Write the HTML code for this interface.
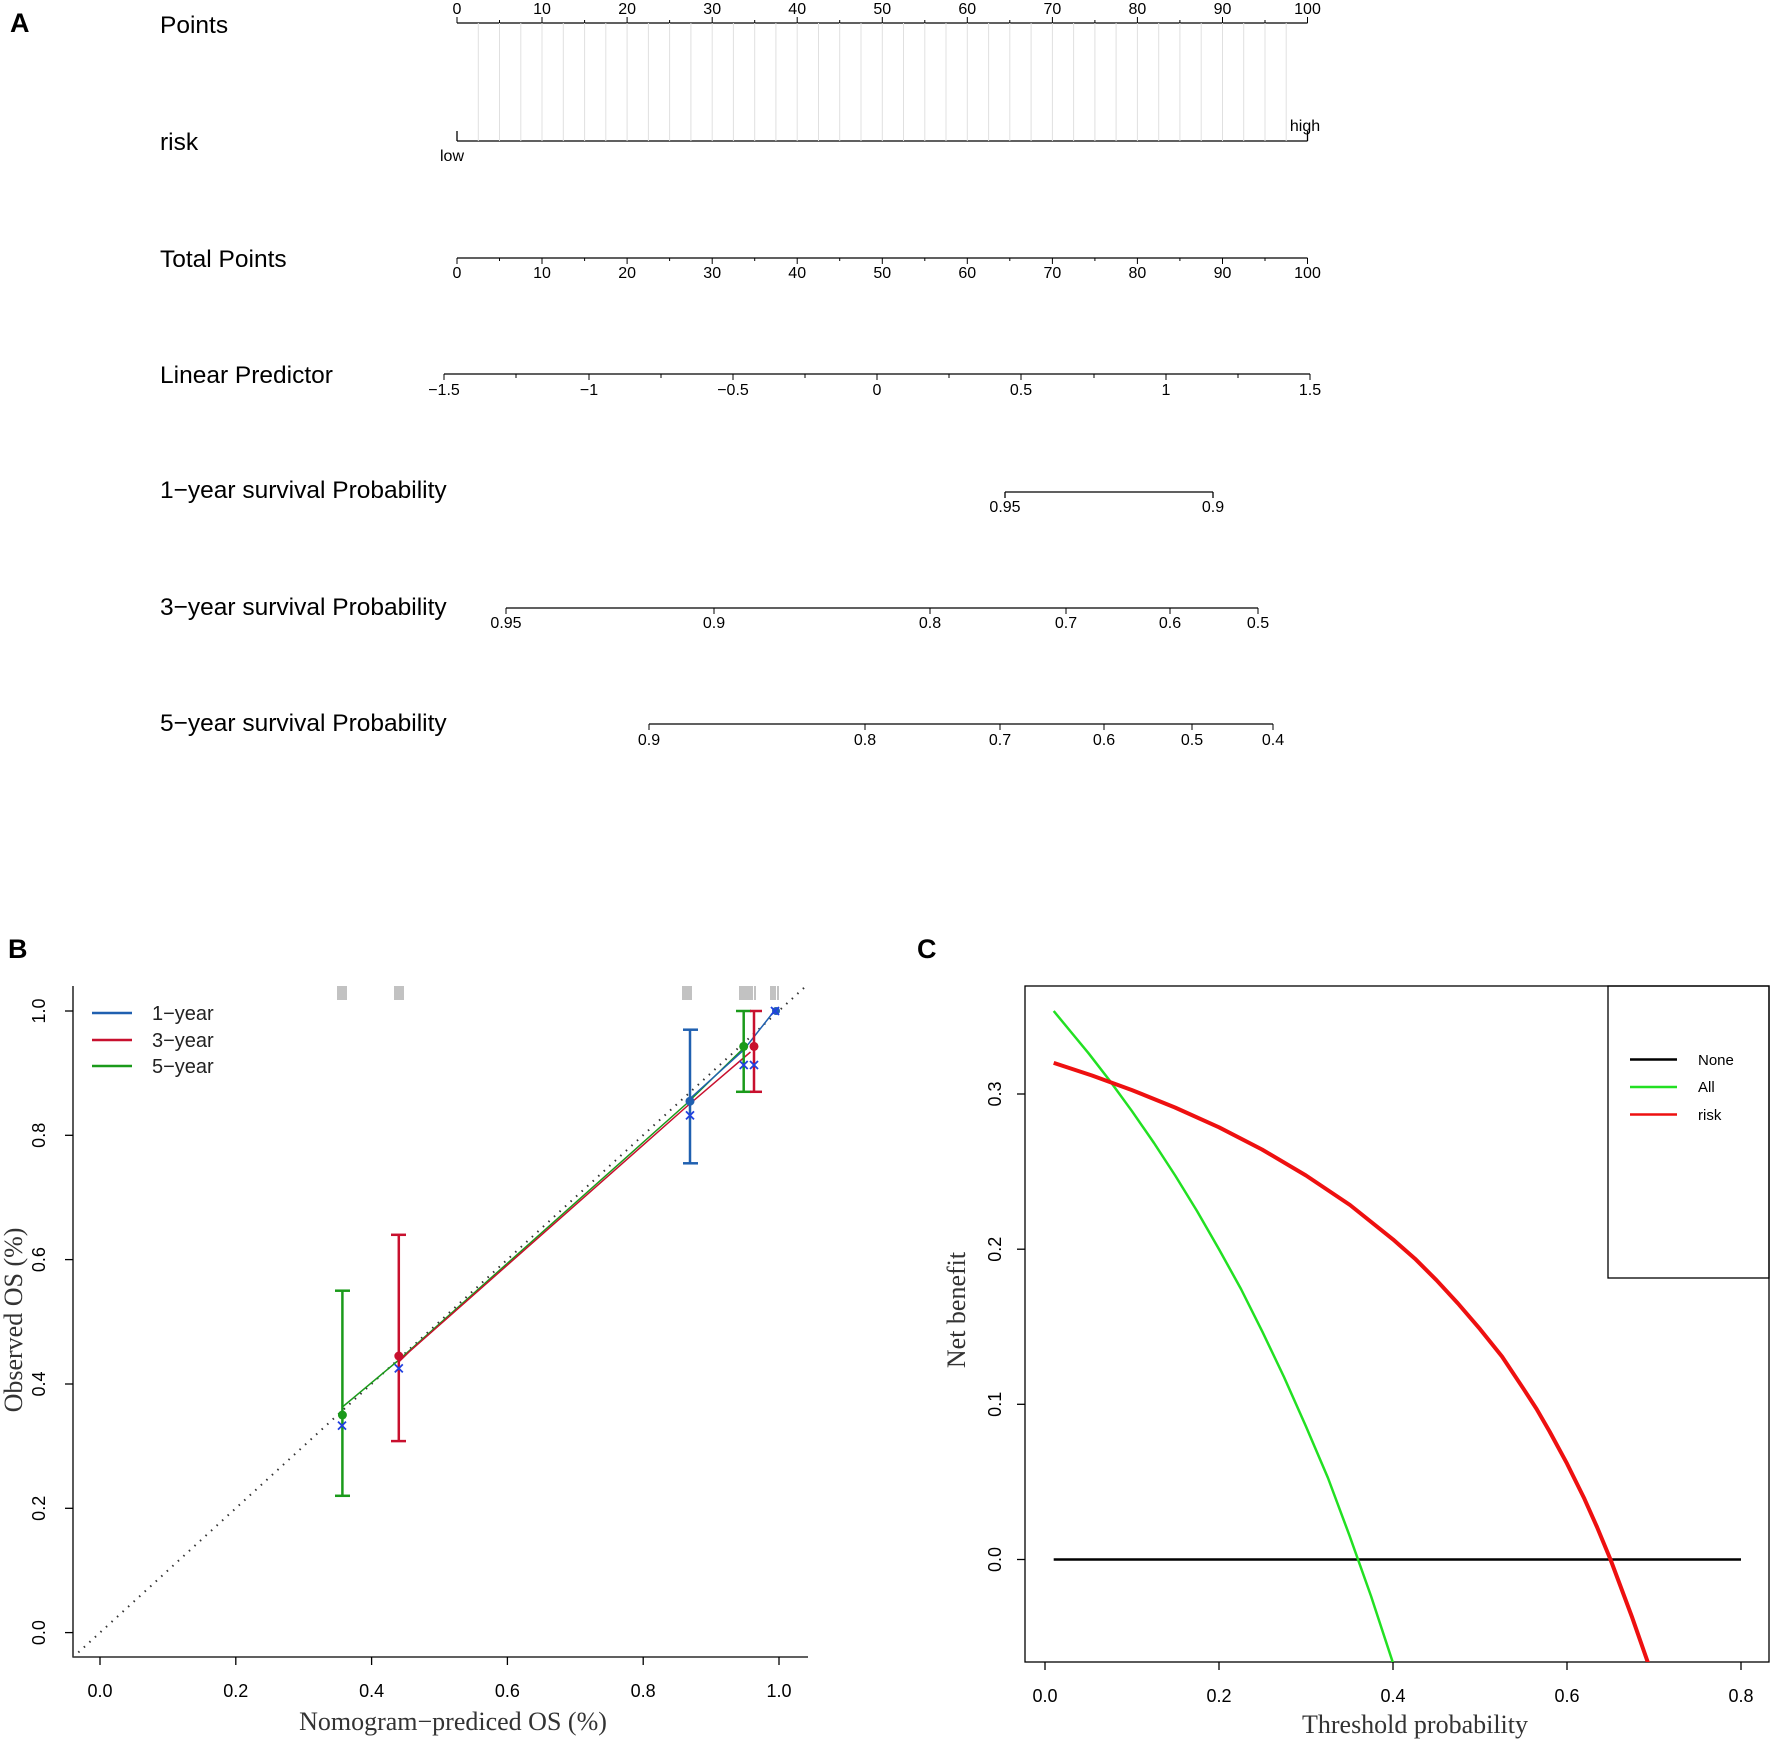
<!DOCTYPE html>
<html><head><meta charset="utf-8"><style>
html,body{margin:0;padding:0;background:#fff;}
svg{display:block;}
text{font-family:"Liberation Sans",sans-serif;fill:#000;}
.lab{font-size:24.5px;}
.tk{font-size:16px;text-anchor:middle;}
.ser{font-family:"Liberation Serif",serif;font-size:26px;fill:#333;}
.bt{font-size:18px;text-anchor:middle;fill:#222;}
</style></head><body>
<svg width="1772" height="1745" viewBox="0 0 1772 1745" xmlns="http://www.w3.org/2000/svg">
<defs>
<clipPath id="cc"><rect x="1025" y="986" width="744" height="676"/></clipPath>
<clipPath id="cb"><rect x="73" y="986" width="735" height="671"/></clipPath>
</defs>
<!-- Panel A -->
<text x="10" y="32" style="font-size:27px;font-weight:bold">A</text>
<text class="lab" x="160" y="33">Points</text>
<text class="lab" x="160" y="150">risk</text>
<text class="lab" x="160" y="267">Total Points</text>
<text class="lab" x="160" y="383">Linear Predictor</text>
<text class="lab" x="160" y="498">1−year survival Probability</text>
<text class="lab" x="160" y="615">3−year survival Probability</text>
<text class="lab" x="160" y="731">5−year survival Probability</text>
<g stroke="#000" stroke-width="1.3" fill="none">
<line x1="457" y1="23" x2="1307.5" y2="23"/>
<line x1="457" y1="141" x2="1307.5" y2="141"/>
<line x1="457" y1="131" x2="457" y2="141"/><line x1="1307.5" y1="131" x2="1307.5" y2="141"/>
<line x1="457" y1="258" x2="1307.5" y2="258"/>
<line x1="444" y1="374" x2="1310" y2="374"/>
<line x1="1005" y1="492" x2="1213" y2="492"/>
<line x1="1005" y1="492" x2="1005" y2="498"/><line x1="1213" y1="492" x2="1213" y2="498"/>
<line x1="506" y1="608" x2="1258" y2="608"/>
<line x1="649" y1="724" x2="1273" y2="724"/>
</g>
<text class="tk" x="452" y="161">low</text>
<text class="tk" x="1305" y="131">high</text>
<text class="tk" x="444" y="395">−1.5</text>
<text class="tk" x="589" y="395">−1</text>
<text class="tk" x="733" y="395">−0.5</text>
<text class="tk" x="877" y="395">0</text>
<text class="tk" x="1021" y="395">0.5</text>
<text class="tk" x="1166" y="395">1</text>
<text class="tk" x="1310" y="395">1.5</text>
<text class="tk" x="1005" y="512">0.95</text>
<text class="tk" x="1213" y="512">0.9</text>
<text class="tk" x="506" y="628">0.95</text>
<text class="tk" x="714" y="628">0.9</text>
<text class="tk" x="930" y="628">0.8</text>
<text class="tk" x="1066" y="628">0.7</text>
<text class="tk" x="1170" y="628">0.6</text>
<text class="tk" x="1258" y="628">0.5</text>
<text class="tk" x="649" y="745">0.9</text>
<text class="tk" x="865" y="745">0.8</text>
<text class="tk" x="1000" y="745">0.7</text>
<text class="tk" x="1104" y="745">0.6</text>
<text class="tk" x="1192" y="745">0.5</text>
<text class="tk" x="1273" y="745">0.4</text>
<g stroke="#000" stroke-width="1">
<line x1="444" y1="374" x2="444" y2="380"/><line x1="516" y1="374" x2="516" y2="378"/><line x1="589" y1="374" x2="589" y2="380"/><line x1="661" y1="374" x2="661" y2="378"/><line x1="733" y1="374" x2="733" y2="380"/><line x1="805" y1="374" x2="805" y2="378"/><line x1="877" y1="374" x2="877" y2="380"/><line x1="949" y1="374" x2="949" y2="378"/><line x1="1021" y1="374" x2="1021" y2="380"/><line x1="1094" y1="374" x2="1094" y2="378"/><line x1="1166" y1="374" x2="1166" y2="380"/><line x1="1238" y1="374" x2="1238" y2="378"/><line x1="1310" y1="374" x2="1310" y2="380"/>
<line x1="506" y1="608" x2="506" y2="614"/><line x1="714" y1="608" x2="714" y2="614"/><line x1="930" y1="608" x2="930" y2="614"/><line x1="1066" y1="608" x2="1066" y2="614"/><line x1="1170" y1="608" x2="1170" y2="614"/><line x1="1258" y1="608" x2="1258" y2="614"/>
<line x1="649" y1="724" x2="649" y2="730"/><line x1="865" y1="724" x2="865" y2="730"/><line x1="1000" y1="724" x2="1000" y2="730"/><line x1="1104" y1="724" x2="1104" y2="730"/><line x1="1192" y1="724" x2="1192" y2="730"/><line x1="1273" y1="724" x2="1273" y2="730"/>
</g>

<!-- Panel B -->
<text x="8" y="958" style="font-size:27px;font-weight:bold">B</text>
<g stroke="#000" stroke-width="1.3" fill="none">
<polyline points="73,986 73,1657 808,1657"/>
<line x1="100" y1="1657" x2="100" y2="1665"/><line x1="235.8" y1="1657" x2="235.8" y2="1665"/><line x1="371.6" y1="1657" x2="371.6" y2="1665"/><line x1="507.4" y1="1657" x2="507.4" y2="1665"/><line x1="643.2" y1="1657" x2="643.2" y2="1665"/><line x1="779" y1="1657" x2="779" y2="1665"/>
<line x1="65" y1="1632.6" x2="73" y2="1632.6"/><line x1="65" y1="1508.3" x2="73" y2="1508.3"/><line x1="65" y1="1384" x2="73" y2="1384"/><line x1="65" y1="1259.6" x2="73" y2="1259.6"/><line x1="65" y1="1135.3" x2="73" y2="1135.3"/><line x1="65" y1="1011" x2="73" y2="1011"/>
</g>
<g class="bt">
<text x="100" y="1697">0.0</text><text x="235.8" y="1697">0.2</text><text x="371.6" y="1697">0.4</text><text x="507.4" y="1697">0.6</text><text x="643.2" y="1697">0.8</text><text x="779" y="1697">1.0</text>
<text transform="translate(45,1632.6) rotate(-90)">0.0</text>
<text transform="translate(45,1508.3) rotate(-90)">0.2</text>
<text transform="translate(45,1384) rotate(-90)">0.4</text>
<text transform="translate(45,1259.6) rotate(-90)">0.6</text>
<text transform="translate(45,1135.3) rotate(-90)">0.8</text>
<text transform="translate(45,1011) rotate(-90)">1.0</text>
</g>
<text class="ser" x="453" y="1730" text-anchor="middle">Nomogram−prediced OS (%)</text>
<text class="ser" transform="translate(22,1320) rotate(-90)" text-anchor="middle">Observed OS (%)</text>
<g stroke="#999" stroke-width="1.2">
<line x1="338" y1="986" x2="338" y2="1000"/><line x1="340" y1="986" x2="340" y2="1000"/><line x1="342" y1="986" x2="342" y2="1000"/><line x1="344" y1="986" x2="344" y2="1000"/><line x1="346" y1="986" x2="346" y2="1000"/>
<line x1="395" y1="986" x2="395" y2="1000"/><line x1="397" y1="986" x2="397" y2="1000"/><line x1="399" y1="986" x2="399" y2="1000"/><line x1="401" y1="986" x2="401" y2="1000"/><line x1="403" y1="986" x2="403" y2="1000"/>
<line x1="683" y1="986" x2="683" y2="1000"/><line x1="685" y1="986" x2="685" y2="1000"/><line x1="687" y1="986" x2="687" y2="1000"/><line x1="689" y1="986" x2="689" y2="1000"/><line x1="691" y1="986" x2="691" y2="1000"/>
<line x1="740" y1="986" x2="740" y2="1000"/><line x1="742" y1="986" x2="742" y2="1000"/><line x1="744" y1="986" x2="744" y2="1000"/><line x1="746" y1="986" x2="746" y2="1000"/><line x1="748" y1="986" x2="748" y2="1000"/><line x1="750" y1="986" x2="750" y2="1000"/><line x1="752" y1="986" x2="752" y2="1000"/><line x1="755" y1="986" x2="755" y2="1000"/>
<line x1="771" y1="986" x2="771" y2="1000"/><line x1="773" y1="986" x2="773" y2="1000"/><line x1="775" y1="986" x2="775" y2="1000"/><line x1="778" y1="986" x2="778" y2="1000"/>
</g>
<line x1="72.8" y1="1657.5" x2="806" y2="986" stroke="#333" stroke-width="2" stroke-dasharray="1.5,6" clip-path="url(#cb)"/>
<polyline points="342.4,1407 398.8,1360 687.3,1103 743.7,1048" fill="none" stroke="#1a9a1a" stroke-width="1.5"/>
<polyline points="398.8,1362 409,1352 687.3,1106 750.5,1052" fill="none" stroke="#c8102e" stroke-width="1.5"/>
<polyline points="687.3,1101 743.7,1050 774.2,1011" fill="none" stroke="#2060b0" stroke-width="1.5"/>
<g fill="none" stroke-width="2.5">
<g stroke="#1a9a1a"><line x1="342.4" y1="1290.7" x2="342.4" y2="1495.8"/><line x1="335" y1="1290.7" x2="350" y2="1290.7"/><line x1="335" y1="1495.8" x2="350" y2="1495.8"/>
<line x1="743.7" y1="1011" x2="743.7" y2="1091.8"/><line x1="736" y1="1011" x2="751" y2="1011"/><line x1="736" y1="1091.8" x2="751" y2="1091.8"/></g>
<g stroke="#c8102e"><line x1="398.8" y1="1234.8" x2="398.8" y2="1441.1"/><line x1="391" y1="1234.8" x2="406" y2="1234.8"/><line x1="391" y1="1441.1" x2="406" y2="1441.1"/>
<line x1="754" y1="1011" x2="754" y2="1091.8"/><line x1="750" y1="1011" x2="762" y2="1011"/><line x1="750" y1="1091.8" x2="762" y2="1091.8"/></g>
<g stroke="#2060b0"><line x1="690" y1="1029.7" x2="690" y2="1163.3"/><line x1="683" y1="1029.7" x2="698" y2="1029.7"/><line x1="683" y1="1163.3" x2="698" y2="1163.3"/></g>
</g>
<circle cx="342.4" cy="1415" r="4.5" fill="#1a9a1a"/>
<circle cx="743.7" cy="1046.4" r="4.5" fill="#1a9a1a"/>
<circle cx="398.8" cy="1356" r="4.5" fill="#c8102e"/>
<circle cx="754" cy="1046.4" r="4.5" fill="#c8102e"/>
<circle cx="690" cy="1101.2" r="4.5" fill="#2060b0"/>
<circle cx="776" cy="1011" r="4" fill="#2060b0"/>
<g stroke="#2040e0" stroke-width="1.8">
<path d="M338,1421.6l8,8M346,1421.6l-8,8"/>
<path d="M394.8,1364.4l8,8M402.8,1364.4l-8,8"/>
<path d="M686,1111.4l8,8M694,1111.4l-8,8"/>
<path d="M739.7,1061l8,8M747.7,1061l-8,8"/>
<path d="M750,1061l8,8M758,1061l-8,8"/>
<path d="M771,1007l8,8M779,1007l-8,8"/>
</g>
<line x1="92" y1="1013" x2="132" y2="1013" stroke="#2060b0" stroke-width="2.5"/>
<line x1="92" y1="1040" x2="132" y2="1040" stroke="#c8102e" stroke-width="2.5"/>
<line x1="92" y1="1066" x2="132" y2="1066" stroke="#1a9a1a" stroke-width="2.5"/>
<text x="152" y="1020" style="font-size:20px;fill:#222">1−year</text>
<text x="152" y="1047" style="font-size:20px;fill:#222">3−year</text>
<text x="152" y="1073" style="font-size:20px;fill:#222">5−year</text>

<!-- Panel C -->
<text x="917" y="958" style="font-size:27px;font-weight:bold">C</text>
<rect x="1025" y="986" width="744" height="676" fill="none" stroke="#000" stroke-width="1.3"/>
<rect x="1608" y="986" width="161" height="292" fill="none" stroke="#000" stroke-width="1.3"/>
<g stroke="#000" stroke-width="1.3">
<line x1="1045" y1="1662" x2="1045" y2="1670"/><line x1="1219" y1="1662" x2="1219" y2="1670"/><line x1="1393" y1="1662" x2="1393" y2="1670"/><line x1="1567" y1="1662" x2="1567" y2="1670"/><line x1="1741" y1="1662" x2="1741" y2="1670"/>
<line x1="1017" y1="1559.5" x2="1025" y2="1559.5"/><line x1="1017" y1="1404.3" x2="1025" y2="1404.3"/><line x1="1017" y1="1249.2" x2="1025" y2="1249.2"/><line x1="1017" y1="1094" x2="1025" y2="1094"/>
</g>
<g class="bt">
<text x="1045" y="1702">0.0</text><text x="1219" y="1702">0.2</text><text x="1393" y="1702">0.4</text><text x="1567" y="1702">0.6</text><text x="1741" y="1702">0.8</text>
<text transform="translate(1001,1559.5) rotate(-90)">0.0</text>
<text transform="translate(1001,1404.3) rotate(-90)">0.1</text>
<text transform="translate(1001,1249.2) rotate(-90)">0.2</text>
<text transform="translate(1001,1094) rotate(-90)">0.3</text>
</g>
<text class="ser" x="1415" y="1733" text-anchor="middle">Threshold probability</text>
<text class="ser" transform="translate(965,1310) rotate(-90)" text-anchor="middle">Net benefit</text>
<g clip-path="url(#cc)" fill="none" stroke-linejoin="round">
<line x1="1053.7" y1="1559.5" x2="1741" y2="1559.5" stroke="#000" stroke-width="2.5"/>
<polyline stroke="#22e022" stroke-width="2.5" points="1053.7,1011 1071,1032 1088.5,1053.2 1110,1081 1132,1111.2 1154,1143 1175.5,1176 1197,1211 1219,1249.2 1241,1289 1262.5,1331.9 1284,1377 1306,1426.5 1328,1478 1349.5,1535.6 1371,1596 1393,1663 1400,1690"/>
<polyline stroke="#ee1010" stroke-width="4" points="1053.7,1062.9 1092,1075.5 1132,1090.1 1175,1107.5 1219,1127.3 1262,1149.5 1306,1175.5 1350,1205 1393,1239.4 1415,1258.7 1436.5,1280.2 1458,1303.5 1480,1329.1 1502,1356.5 1523.5,1388.8 1536.6,1409 1549.6,1431.5 1567,1463.6 1584.4,1498.8 1597,1527 1610.5,1559.5 1632,1617 1654,1680"/>
</g>
<line x1="1630" y1="1059.5" x2="1677" y2="1059.5" stroke="#000" stroke-width="2.5"/>
<line x1="1630" y1="1087" x2="1677" y2="1087" stroke="#22e022" stroke-width="2.5"/>
<line x1="1630" y1="1114.5" x2="1677" y2="1114.5" stroke="#ee1010" stroke-width="2.5"/>
<text x="1698" y="1065" style="font-size:15px">None</text>
<text x="1698" y="1092" style="font-size:15px">All</text>
<text x="1698" y="1120" style="font-size:15px">risk</text>

<g stroke="#e0e0e0" stroke-width="1">
<line x1="478.3" y1="23" x2="478.3" y2="141"/><line x1="499.5" y1="23" x2="499.5" y2="141"/><line x1="520.8" y1="23" x2="520.8" y2="141"/><line x1="542" y1="23" x2="542" y2="141"/><line x1="563.3" y1="23" x2="563.3" y2="141"/><line x1="584.6" y1="23" x2="584.6" y2="141"/><line x1="605.8" y1="23" x2="605.8" y2="141"/><line x1="627.1" y1="23" x2="627.1" y2="141"/><line x1="648.4" y1="23" x2="648.4" y2="141"/><line x1="669.6" y1="23" x2="669.6" y2="141"/><line x1="690.9" y1="23" x2="690.9" y2="141"/><line x1="712.2" y1="23" x2="712.2" y2="141"/><line x1="733.4" y1="23" x2="733.4" y2="141"/><line x1="754.7" y1="23" x2="754.7" y2="141"/><line x1="775.9" y1="23" x2="775.9" y2="141"/><line x1="797.2" y1="23" x2="797.2" y2="141"/><line x1="818.5" y1="23" x2="818.5" y2="141"/><line x1="839.7" y1="23" x2="839.7" y2="141"/><line x1="861" y1="23" x2="861" y2="141"/><line x1="882.3" y1="23" x2="882.3" y2="141"/><line x1="903.5" y1="23" x2="903.5" y2="141"/><line x1="924.8" y1="23" x2="924.8" y2="141"/><line x1="946" y1="23" x2="946" y2="141"/><line x1="967.3" y1="23" x2="967.3" y2="141"/><line x1="988.6" y1="23" x2="988.6" y2="141"/><line x1="1009.8" y1="23" x2="1009.8" y2="141"/><line x1="1031.1" y1="23" x2="1031.1" y2="141"/><line x1="1052.4" y1="23" x2="1052.4" y2="141"/><line x1="1073.6" y1="23" x2="1073.6" y2="141"/><line x1="1094.9" y1="23" x2="1094.9" y2="141"/><line x1="1116.1" y1="23" x2="1116.1" y2="141"/><line x1="1137.4" y1="23" x2="1137.4" y2="141"/><line x1="1158.7" y1="23" x2="1158.7" y2="141"/><line x1="1179.9" y1="23" x2="1179.9" y2="141"/><line x1="1201.2" y1="23" x2="1201.2" y2="141"/><line x1="1222.5" y1="23" x2="1222.5" y2="141"/><line x1="1243.7" y1="23" x2="1243.7" y2="141"/><line x1="1265" y1="23" x2="1265" y2="141"/><line x1="1286.2" y1="23" x2="1286.2" y2="141"/>
</g>
<g stroke="#000" stroke-width="1">
<line x1="457" y1="17" x2="457" y2="23"/><line x1="542" y1="17" x2="542" y2="23"/><line x1="627.1" y1="17" x2="627.1" y2="23"/><line x1="712.2" y1="17" x2="712.2" y2="23"/><line x1="797.2" y1="17" x2="797.2" y2="23"/><line x1="882.3" y1="17" x2="882.3" y2="23"/><line x1="967.3" y1="17" x2="967.3" y2="23"/><line x1="1052.4" y1="17" x2="1052.4" y2="23"/><line x1="1137.4" y1="17" x2="1137.4" y2="23"/><line x1="1222.5" y1="17" x2="1222.5" y2="23"/><line x1="1307.5" y1="17" x2="1307.5" y2="23"/>
<line x1="499.5" y1="20" x2="499.5" y2="23"/><line x1="584.6" y1="20" x2="584.6" y2="23"/><line x1="669.6" y1="20" x2="669.6" y2="23"/><line x1="754.7" y1="20" x2="754.7" y2="23"/><line x1="839.7" y1="20" x2="839.7" y2="23"/><line x1="924.8" y1="20" x2="924.8" y2="23"/><line x1="1009.8" y1="20" x2="1009.8" y2="23"/><line x1="1094.9" y1="20" x2="1094.9" y2="23"/><line x1="1179.9" y1="20" x2="1179.9" y2="23"/><line x1="1265" y1="20" x2="1265" y2="23"/>
<line x1="457" y1="258" x2="457" y2="264"/><line x1="542" y1="258" x2="542" y2="264"/><line x1="627.1" y1="258" x2="627.1" y2="264"/><line x1="712.2" y1="258" x2="712.2" y2="264"/><line x1="797.2" y1="258" x2="797.2" y2="264"/><line x1="882.3" y1="258" x2="882.3" y2="264"/><line x1="967.3" y1="258" x2="967.3" y2="264"/><line x1="1052.4" y1="258" x2="1052.4" y2="264"/><line x1="1137.4" y1="258" x2="1137.4" y2="264"/><line x1="1222.5" y1="258" x2="1222.5" y2="264"/><line x1="1307.5" y1="258" x2="1307.5" y2="264"/>
<line x1="499.5" y1="258" x2="499.5" y2="261"/><line x1="584.6" y1="258" x2="584.6" y2="261"/><line x1="669.6" y1="258" x2="669.6" y2="261"/><line x1="754.7" y1="258" x2="754.7" y2="261"/><line x1="839.7" y1="258" x2="839.7" y2="261"/><line x1="924.8" y1="258" x2="924.8" y2="261"/><line x1="1009.8" y1="258" x2="1009.8" y2="261"/><line x1="1094.9" y1="258" x2="1094.9" y2="261"/><line x1="1179.9" y1="258" x2="1179.9" y2="261"/><line x1="1265" y1="258" x2="1265" y2="261"/>
</g>
<g class="tk">
<text x="457" y="14">0</text><text x="542" y="14">10</text><text x="627.1" y="14">20</text><text x="712.2" y="14">30</text><text x="797.2" y="14">40</text><text x="882.3" y="14">50</text><text x="967.3" y="14">60</text><text x="1052.4" y="14">70</text><text x="1137.4" y="14">80</text><text x="1222.5" y="14">90</text><text x="1307.5" y="14">100</text>
<text x="457" y="278">0</text><text x="542" y="278">10</text><text x="627.1" y="278">20</text><text x="712.2" y="278">30</text><text x="797.2" y="278">40</text><text x="882.3" y="278">50</text><text x="967.3" y="278">60</text><text x="1052.4" y="278">70</text><text x="1137.4" y="278">80</text><text x="1222.5" y="278">90</text><text x="1307.5" y="278">100</text>
</g>
</svg>
</body></html>
